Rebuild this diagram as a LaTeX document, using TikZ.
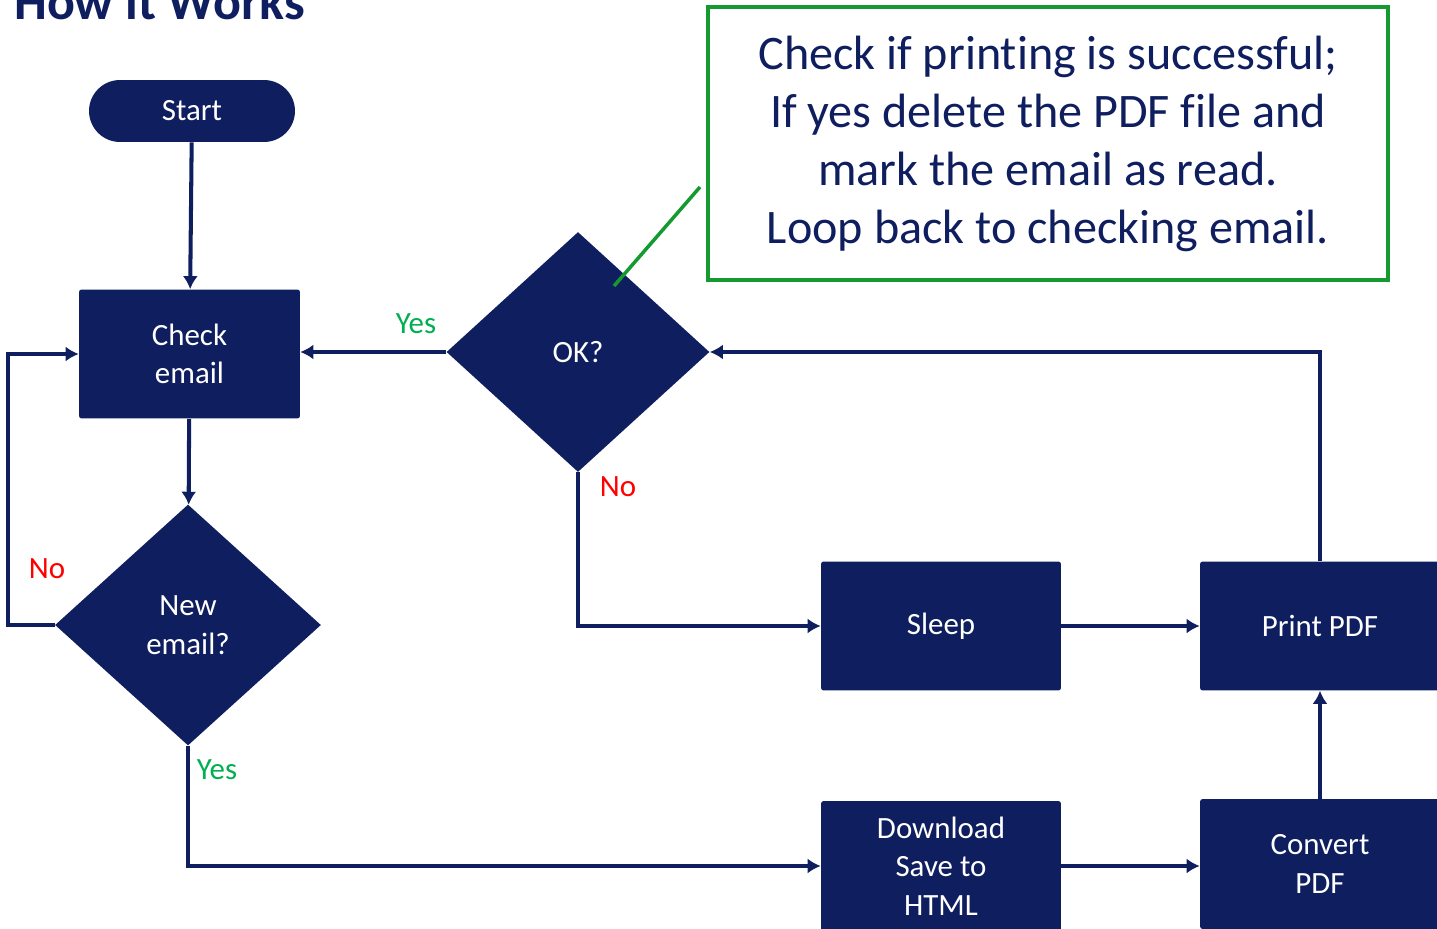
\documentclass[tikz,border=0pt]{standalone}
\usepackage{fontspec}
\setmainfont{Carlito}[Ligatures=NoCommon]
\usetikzlibrary{calc,arrows.meta,positioning,shapes.geometric}
\definecolor{navy}{RGB}{15,30,94}
\definecolor{yesgreen}{RGB}{0,176,80}
\definecolor{notegreen}{RGB}{20,154,48}
\newcommand{\boxfont}{\fontsize{17.6pt}{22pt}\selectfont}

\begin{document}
\begin{tikzpicture}[x=0.02cm,y=-0.02cm]
\tikzstyle{block} = [rectangle,fill=navy,text=white,align=center,font=\boxfont,rounded corners=1.5pt,minimum width=4.8cm,minimum height=2.58cm]
\tikzstyle{decision} = [diamond,fill=navy,text=white,align=center,font=\boxfont,inner sep=0pt]
\tikzstyle{flow} = [draw=navy,line width=2.3pt,-{Latex[length=0.26cm,width=0.3cm]}]
\tikzstyle{yes} = [text=yesgreen,font=\boxfont]
\tikzstyle{no} = [text=red,font=\boxfont]
    \useasboundingbox (0,0) rectangle (1437,929);
    \node[anchor=base west,text=navy,font=\fontsize{29.6pt}{34pt}\selectfont\bfseries] (title) at (8,20) {How it Works};
    \node[block,rounded corners=0.62cm,minimum width=4.12cm,minimum height=1.24cm] (start) at (192,111) {Start};
    \node[block,minimum width=4.42cm] (check) at (189.5,354) {Check\\email};
    \node[decision,minimum width=5.32cm,minimum height=4.82cm] (newmail) at (188,625) {New\\email?};
    \node[decision,minimum width=5.26cm,minimum height=4.8cm] (ok) at (578,352) {OK?};
    \node[block] (sleep) at (941,626) {Sleep};
    \node[block] (print) at (1320,626) {Print PDF};
    \node[block,minimum height=2.6cm] (download) at (941,866) {Download\\Save to\\HTML};
    \node[block,minimum height=2.6cm] (convert) at (1320,864) {Convert\\PDF};
    \node[draw=notegreen,line width=0.08cm,minimum width=13.6cm,minimum height=5.46cm,text=navy,align=center,font=\fontsize{27.4pt}{33pt}\selectfont] (note) at (1048,143.5) {Check if printing is successful;\\If yes delete the PDF file and\\mark the email as read.\\Loop back to checking email.};
    \coordinate (loop) at (8,625);
    \coordinate (callA) at (700,187);
    \coordinate (callB) at (614,286);

    \node[no] (no1) at (47,569) {No};
    \node[yes] (yes1) at (217,770) {Yes};
    \node[yes] (yes2) at (416,324) {Yes};
    \node[no] (no2) at (618,487) {No};

    \draw[flow] (start) -- (check);
    \draw[flow] (check) -- (newmail);
    \draw[flow] (newmail.west) -- (loop) |- (check.west);
    \draw[flow] (newmail.south) |- (download.west);
    \draw[flow] (ok.west) -- (ok.west -| check.east);
    \draw[flow] (ok.south) |- (sleep.west);
    \draw[flow] (sleep) -- (print);
    \draw[flow] (download) -- (convert.west |- download);
    \draw[flow] (convert) -- (print);
    \draw[flow] (print.north) |- (ok.east);
    \draw[draw=notegreen,line width=0.07cm] (callA) -- (callB);
\end{tikzpicture}
\end{document}
